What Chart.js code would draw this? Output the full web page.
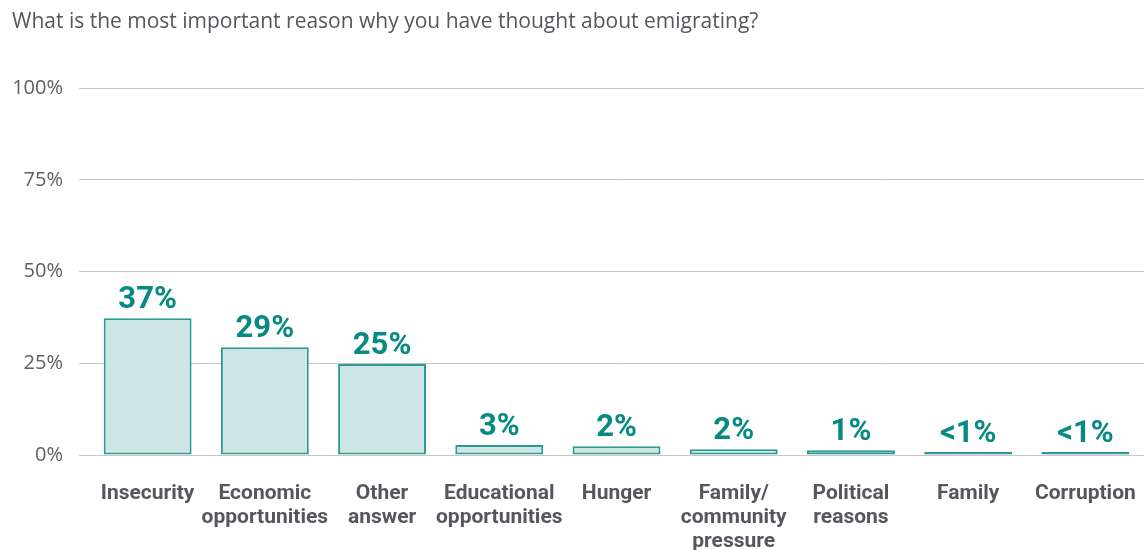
<!DOCTYPE html>
<html>
<head>
<meta charset="utf-8">
<script src="https://cdn.jsdelivr.net/npm/chart.js@4"></script>
<style>
  html, body { margin: 0; padding: 0; background: #fff; }
  #wrap { width: 1144px; height: 550px; }
</style>
</head>
<body>
<div id="wrap"><canvas id="reasons-chart"></canvas></div>
<script>
const Chart = window.Chart;

// survey answers and shares (%)
const reasons = [
    'Insecurity',
    ['Economic', 'opportunities'],
    ['Other', 'answer'],
    ['Educational', 'opportunities'],
    'Hunger',
    ['Family/', 'community', 'pressure'],
    ['Political', 'reasons'],
    'Family',
    'Corruption'
];
const shares = [37.3, 29.4, 24.8, 2.7, 2.4, 1.6, 1.3, 0.35, 0.2];
const shareLabels = ['37%', '29%', '25%', '3%', '2%', '2%', '1%', '<1%', '<1%'];
const yTicks = [0, 25, 50, 75, 100];

const teal = '#078a82';

// writes the percentage over every bar
const valueLabels = {
    id: 'valueLabels',
    afterDatasetsDraw(chart) {
        const ctx = chart.ctx;
        const bars = chart.getDatasetMeta(0).data;
        ctx.save();
        ctx.fillStyle = teal;
        ctx.font = 'bold 31px Roboto';
        ctx.textAlign = 'center';
        ctx.textBaseline = 'alphabetic';
        bars.forEach((bar, i) => {
            ctx.fillText(shareLabels[i], bar.x, bar.y - 10);
        });
        ctx.restore();
    }
};

const canvas = document.getElementById('reasons-chart');

const chart = new Chart(canvas, {
    type: 'bar',
    data: {
        labels: reasons,
        datasets: [{
            data: shares,
            backgroundColor: '#cde6e5',
            borderColor: '#2a9a93',
            borderWidth: 2,
            borderSkipped: false,
            minBarLength: 3,
            barPercentage: 0.75,
            categoryPercentage: 1
        }]
    },
    options: {
        responsive: true,
        maintainAspectRatio: false,
        animation: false,
        layout: {
            padding: { left: 12, right: 0, top: 0, bottom: 0 }
        },
        plugins: {
            legend: { display: false },
            tooltip: { enabled: false },
            title: {
                display: true,
                text: 'What is the most important reason why you have thought about emigrating?',
                align: 'start',
                color: '#55575c',
                font: { family: 'Open Sans', size: 21, weight: 'normal', lineHeight: 1.2 },
                padding: { top: 9, bottom: 54 }
            }
        },
        scales: {
            x: {
                afterFit(axis) {
                    axis.height = 95;
                    axis.paddingLeft = 0;
                    axis.paddingRight = 0;
                },
                grid: { display: false, drawTicks: false },
                border: { display: false },
                ticks: {
                    color: '#56575e',
                    font: { family: 'Roboto', size: 21, weight: 'bold', lineHeight: 1.143 },
                    maxRotation: 0,
                    autoSkip: false,
                    padding: 27
                }
            },
            y: {
                min: 0,
                max: 100,
                afterFit(axis) { axis.width = 77; },
                afterBuildTicks(axis) { axis.ticks = yTicks.map(v => ({ value: v })); },
                grid: { color: '#c6c6c6', lineWidth: 1, tickLength: 10 },
                border: { display: false },
                ticks: {
                    color: '#5e6065',
                    font: { family: 'Open Sans', size: 20 },
                    padding: 16,
                    callback: (value) => value + '%'
                }
            }
        }
    },
    plugins: [valueLabels]
});
</script>
</body>
</html>
